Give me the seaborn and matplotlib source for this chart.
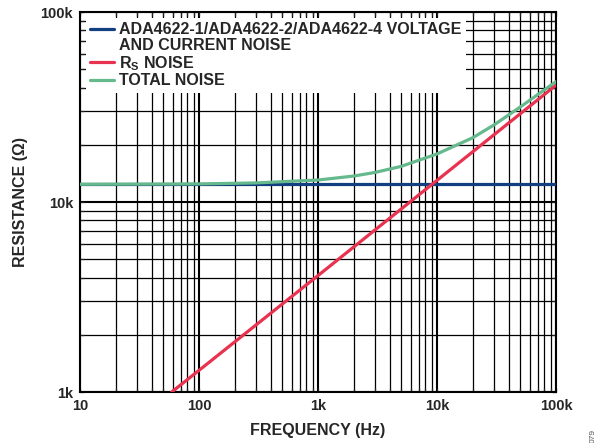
import numpy as np
import pandas as pd
import matplotlib
matplotlib.use("Agg")
import matplotlib.pyplot as plt
import seaborn as sns
from matplotlib.lines import Line2D
from matplotlib.ticker import FixedLocator, NullFormatter

# values (frequency in Hz, resistance in ohm)
amp_freq = [10, 100, 1000, 10000, 100000]
amp_res = [12400, 12400, 12400, 12400, 12400]

rs_freq = [59, 100, 1000, 10000, 100000]
rs_res = [1000, 1300, 4100, 13000, 41200]

tot_freq = [10, 100, 300, 1000, 2000, 3000, 5000, 10000, 20000, 30000, 50000, 100000]
tot_res = [12400, 12450, 12600, 13050, 13700, 14300, 15400, 17900, 21800, 25400, 31600, 43000]

labels = ["ADA4622-1/ADA4622-2/ADA4622-4 VOLTAGE",
          r"R$_\mathregular{S}$ NOISE",
          "TOTAL NOISE"]
label_cont = "AND CURRENT NOISE"
colors = ["#123f80", "#e8324f", "#66b98c"]

df = pd.concat([
    pd.DataFrame({"f": amp_freq, "r": amp_res, "s": labels[0]}),
    pd.DataFrame({"f": rs_freq, "r": rs_res, "s": labels[1]}),
    pd.DataFrame({"f": tot_freq, "r": tot_res, "s": labels[2]}),
])

sns.set_style("ticks")
plt.rcParams["font.family"] = ["Liberation Sans", "DejaVu Sans"]
plt.rcParams["font.weight"] = "bold"
plt.rcParams["mathtext.default"] = "regular"

fig = plt.figure(figsize=(5.97, 4.43), dpi=100)
ax = fig.add_axes([80 / 597, 1 - 392 / 443, 476 / 597, 380 / 443])

sns.lineplot(data=df, x="f", y="r", hue="s", palette=colors, lw=2.3,
             ax=ax, sort=False, zorder=3, legend=False)
ax.set_xscale("log")
ax.set_yscale("log")
ax.set_xlim(10, 100000)
ax.set_ylim(1000, 100000)

ax.xaxis.set_major_locator(FixedLocator([10, 100, 1000, 10000, 100000]))
ax.set_xticklabels(["10", "100", "1k", "10k", "100k"], fontsize=10.5, fontweight="bold")
ax.yaxis.set_major_locator(FixedLocator([1000, 10000, 100000]))
ax.set_yticklabels(["1k", "10k", "100k"], fontsize=10.5, fontweight="bold")
ax.xaxis.set_minor_formatter(NullFormatter())
ax.yaxis.set_minor_formatter(NullFormatter())

ax.grid(True, which="major", color="black", lw=1.5, zorder=1)
ax.grid(True, which="minor", color="black", lw=0.9, zorder=1)
ax.tick_params(which="both", direction="in", top=True, right=True,
               length=3, width=0.9, pad=5)
for sp in ax.spines.values():
    sp.set_linewidth(1.5)
    sp.set_color("black")

ax.set_xlabel("FREQUENCY (Hz)", fontsize=11.5, fontweight="bold", labelpad=7)
ax.set_ylabel("RESISTANCE (Ω)", fontsize=11.5, fontweight="bold", labelpad=9)

handles = [Line2D([], [], color=colors[0], lw=2.3),
           Line2D([], [], color="none", lw=2.3),
           Line2D([], [], color=colors[1], lw=2.3),
           Line2D([], [], color=colors[2], lw=2.3)]
leg = ax.legend(handles, [labels[0], label_cont, labels[1], labels[2]],
                loc="upper left", bbox_to_anchor=(0.0, 1.0), borderaxespad=0.35,
                frameon=True, fancybox=False, framealpha=1, edgecolor="white",
                prop={"size": 11.5, "weight": "bold"}, handlelength=1.45,
                handletextpad=0.35, labelspacing=0.05, borderpad=0.3)
leg.set_zorder(5)
leg.get_frame().set_linewidth(0)

fig.text(0.993, 0.0, "079", rotation=90, fontsize=6, color="#555555",
         fontweight="normal", ha="center", va="bottom")

fig.savefig("out.png", dpi=100)
